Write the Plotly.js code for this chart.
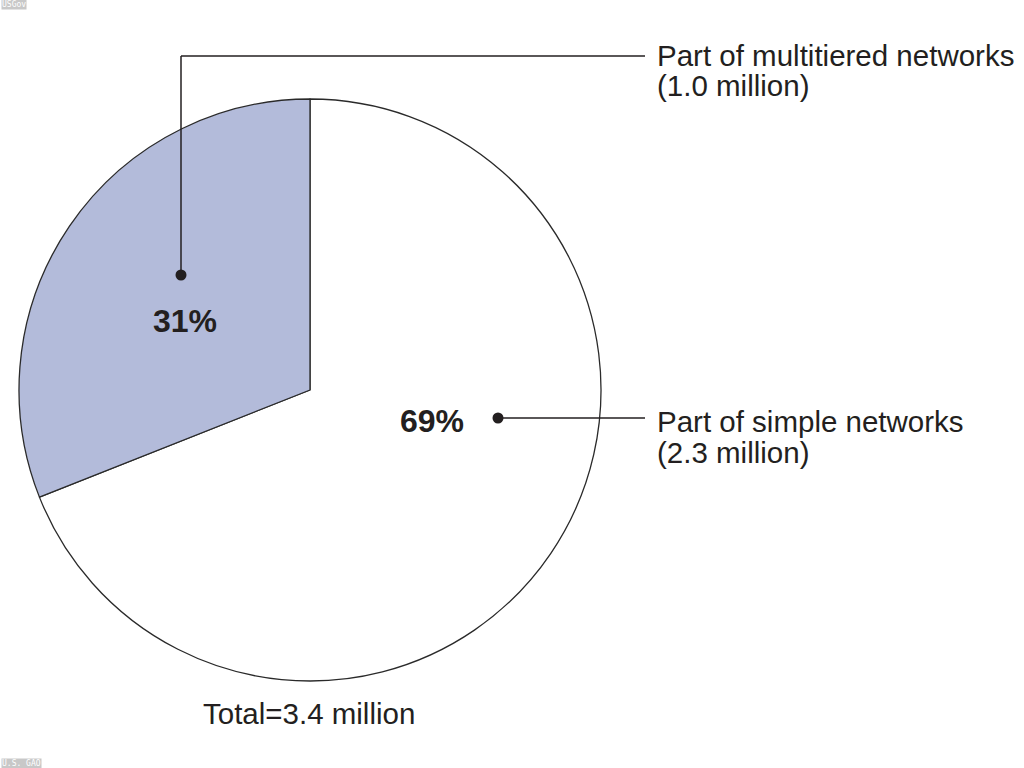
<!DOCTYPE html>
<html>
<head>
<meta charset="utf-8">
<script src="https://cdn.plot.ly/plotly-3.0.1.min.js"></script>
<style>html,body{margin:0;padding:0;background:#fff;}#chart{width:1024px;height:768px;}</style>
</head>
<body>
<div id="chart"></div>
<script>
// ---- data ----
const categories = ["Part of simple networks", "Part of multitiered networks"];
const shares = [69, 31];            // percent
const millions = ["2.3", "1.0"];    // million
const totalMillions = "3.4";
const sliceColors = ["#ffffff", "#b3bbda"];

// ---- helpers: pixel -> paper ----
const W = 1024, H = 768;
const px = x => x / W;
const py = y => 1 - y / H;

const font = "Liberation Sans, Arial, sans-serif";

const trace = {
  type: "pie",
  labels: categories,
  values: shares,
  sort: false,
  direction: "clockwise",
  rotation: 0,
  textinfo: "none",
  hoverinfo: "none",
  showlegend: false,
  marker: { colors: sliceColors, line: { color: "#2a2a2a", width: 1.3 } },
  domain: { x: [px(19), px(601)], y: [py(682), py(98)] }
};

function lab(text, x, y, opts) {
  return Object.assign({
    text: text, x: px(x), y: py(y), xref: "paper", yref: "paper",
    showarrow: false, xanchor: "left", yanchor: "middle",
    font: { family: font, size: 29.5, color: "#231f20" }
  }, opts || {});
}

const annotations = [
  lab(categories[1], 655, 55),
  lab("(" + millions[1] + " million)", 655, 86),
  lab(categories[0], 655, 421),
  lab("(" + millions[0] + " million)", 655, 452),
  lab("Total=" + totalMillions + " million", 309, 713, { xanchor: "center" }),
  lab("<b>" + shares[1] + "%</b>", 185, 321, { xanchor: "center", font: { family: font, size: 32, color: "#231f20" } }),
  lab("<b>" + shares[0] + "%</b>", 432, 421, { xanchor: "center", font: { family: font, size: 32, color: "#231f20" } }),
  lab("USGov", 1, 4, { font: { family: "DejaVu Sans Mono, monospace", size: 8, color: "#ffffff" }, bgcolor: "#c8c8c8", borderpad: 0 }),
  lab("U.S. GAO", 1, 763, { font: { family: "DejaVu Sans Mono, monospace", size: 8, color: "#ffffff" }, bgcolor: "#c8c8c8", borderpad: 0 })
];

const lineStyle = { color: "#231f20", width: 1.5 };
const shapes = [
  { type: "line", xref: "paper", yref: "paper", x0: px(181), y0: py(275), x1: px(181), y1: py(56), line: lineStyle },
  { type: "line", xref: "paper", yref: "paper", x0: px(181), y0: py(56), x1: px(645), y1: py(56), line: lineStyle },
  { type: "line", xref: "paper", yref: "paper", x0: px(498), y0: py(418), x1: px(645), y1: py(418), line: lineStyle },
  { type: "circle", xref: "paper", yref: "paper", x0: px(175.5), y0: py(269.5), x1: px(186.5), y1: py(280.5), fillcolor: "#231f20", line: { width: 0 } },
  { type: "circle", xref: "paper", yref: "paper", x0: px(492.5), y0: py(412.5), x1: px(503.5), y1: py(423.5), fillcolor: "#231f20", line: { width: 0 } }
];

const layout = {
  width: W, height: H,
  margin: { l: 0, r: 0, t: 0, b: 0 },
  paper_bgcolor: "#ffffff",
  plot_bgcolor: "#ffffff",
  annotations: annotations,
  shapes: shapes
};

Plotly.newPlot("chart", [trace], layout, { displayModeBar: false, staticPlot: true });
</script>
</body>
</html>
